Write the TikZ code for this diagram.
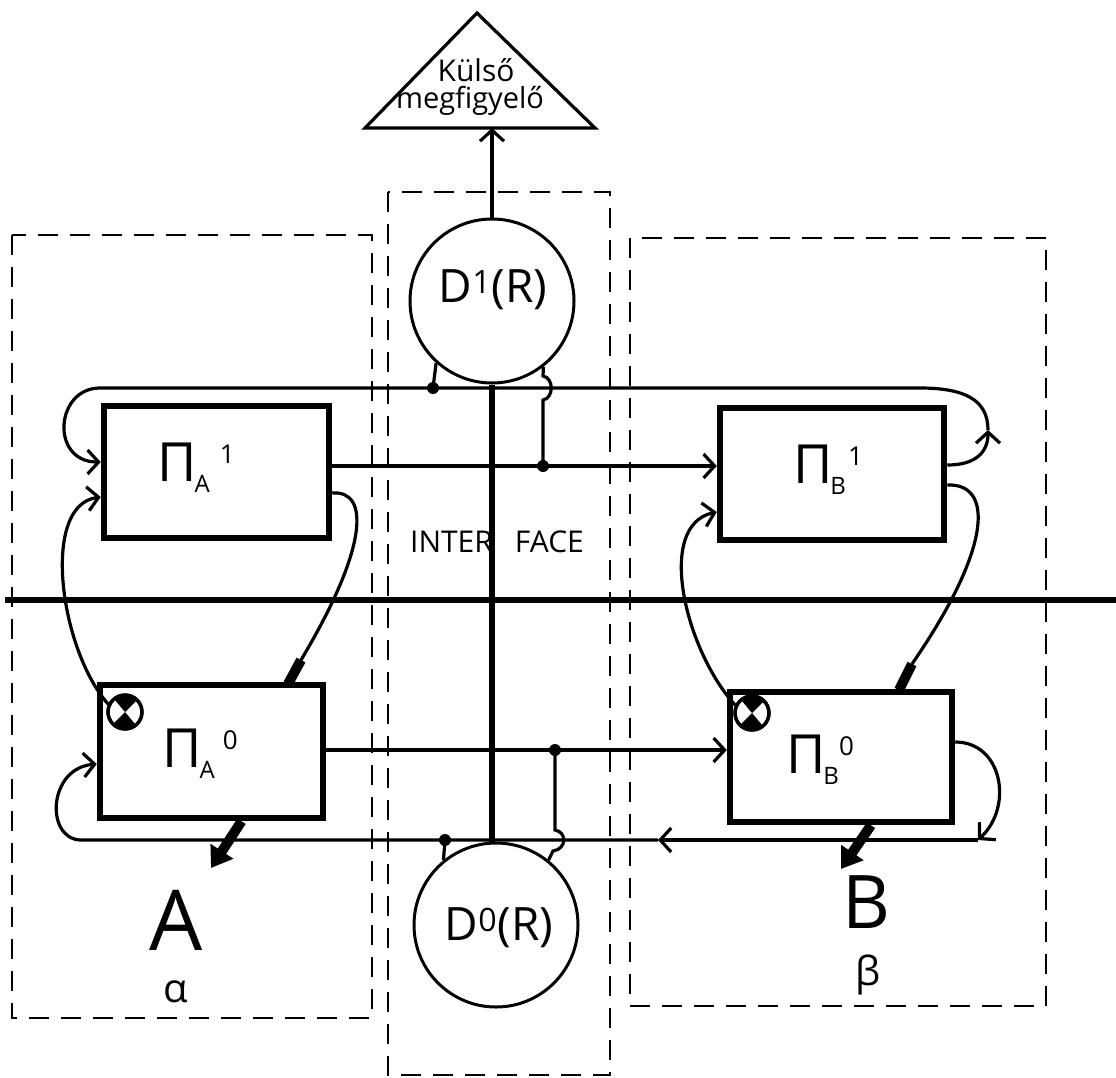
\documentclass[tikz,border=0pt]{standalone}
\usepackage{fontspec}
\setmainfont{Open Sans}
\usetikzlibrary{arrows.meta,calc}
\newcommand{\fsz}[1]{\fontsize{#1}{#1}\selectfont}
\newcommand{\plab}[3]{Π\kern-2pt\raisebox{-11pt}{\fsz{24}#1}\kern#3\raisebox{18pt}{\fsz{26}#2}}
\begin{document}
\begin{tikzpicture}[x=1pt,y=-1pt,
  thinl/.style={line width=3.2pt},
  pbox/.style={draw, line width=6.5pt, minimum width=222pt, minimum height=130pt, inner sep=0pt},
  dashbox/.style={draw, line width=2.6pt, dash pattern=on 20pt off 12pt},
  dcirc/.style={circle, draw, line width=3pt, minimum size=164pt, inner sep=0pt},
  xcirc/.style={circle, draw, line width=3pt, fill=white, minimum size=34pt, inner sep=0pt},
  lab/.style={inner sep=0pt},
  >={Straight Barb[length=11pt,width=24pt]},
  fat/.style={line width=10pt, -{Triangle[length=20pt,width=26pt]}},
  plug/.style={line width=10pt}
]
\useasboundingbox (0,0) rectangle (1116,1077);

% dashed regions
\draw[dashbox] (12,235) rectangle (372,1018);
\draw[dashbox] (630,238) rectangle (1046,1006);
\draw[dashbox] (388,192) rectangle (610,1075);

% thick horizontal line
\draw[line width=5.5pt] (5,600) -- (1116,600);

% boxes
\node[pbox, minimum width=225pt, minimum height=132pt] (A1) at (216.5,472) {};
\node[pbox, minimum width=224pt, minimum height=132pt] (B1) at (832,474) {};
\node[pbox, minimum width=223pt, minimum height=133pt] (A0) at (211.5,751.5) {};
\node[pbox, minimum width=222pt, minimum height=130pt] (B0) at (841,757) {};

\node[lab] (tA1) at (196,468) {\fsz{54}\plab{A}{1}{10pt}};
\node[lab] (tB1) at (828,470) {\fsz{54}\plab{B}{1}{2pt}};
\node[lab] (tA0) at (200,754) {\fsz{54}\plab{A}{0}{8pt}};
\node[lab] (tB0) at (820,760) {\fsz{54}\plab{B}{0}{0pt}};

% D circles
\node[dcirc] (D1) at (492,301) {};
\node[lab] (tD1) at (493,290) {\fsz{46}D\textsuperscript{1}(R)};
\node[dcirc] (D0) at (496,925) {};
\node[lab] (tD0) at (499,928) {\fsz{46}D\textsuperscript{0}(R)};

% thick vertical
\draw[line width=6.5pt] (D1.south) -- (D1.south |- D0.north);

% triangle observer
\coordinate (tL) at (365,128);
\coordinate (tT) at (477,13);
\coordinate (tR) at (595,128);
\draw[thinl, line join=miter] (tL) -- (tT) -- (tR) -- cycle;
\node[lab] (obs1) at (476,70) {\fsz{30}Külső};
\node[lab] (obs2) at (470,101) {\fsz{29}megfigyelő};
\draw[thinl,->] (D1.north) -- (D1.north |- tL);

% interface label
\node[lab] (ifc) at (497,542) {\fsz{30}INTER\hspace{22pt}FACE};

% dots
\coordinate (d1) at (433,388);
\coordinate (d2) at (543,466);
\coordinate (d3) at (555,750);
\coordinate (d4) at (445,840);
\foreach \d in {d1,d2,d3,d4} \fill (\d) circle[radius=6pt];

% top feedback line (B1 -> A1)
\coordinate (tr) at (988,430);
\draw[thinl,->] ([yshift=9pt]B1.east) .. controls (976,465) and (988,452) .. (tr);
\draw[thinl,->] (tr) .. controls (988,400) and (965,388) .. (920,388) -- (100,388)
   .. controls (55,388) and (50,462) .. ([yshift=10pt]A1.west);

% A1 -> B1
\draw[thinl,->] (A1.east |- d2) -- (B1.west |- d2);
% D1 connectors
\draw[thinl] (D1.-132) -- (d1);
\draw[thinl] (d2) -- (543,400) .. controls (554,398) and (554,378) .. (543,376) -- (D1.-52);

% crossed circles
\node[xcirc] (xa) at (125,712) {};
\node[xcirc] (xb) at (752,713) {};
\foreach \x in {xa,xb}{
  \fill (\x.center) -- (\x.45) arc[start angle=45, end angle=135, radius=17pt] -- cycle;
  \fill (\x.center) -- (\x.-135) arc[start angle=-135, end angle=-45, radius=17pt] -- cycle;
  \draw[line width=3.5pt] (\x) circle[radius=17pt];
}

% A0 -> A1 feedback
\draw[thinl,->] (xa.155) .. controls (60,650) and (40,505) .. ([yshift=-25pt]A1.west);
% B0 -> B1 feedback
\draw[thinl,->] (xb.155) .. controls (685,650) and (655,525) .. ([yshift=-38pt]B1.west);

% A1 -> A0 (plug)
\coordinate (pa) at (301,660);
\coordinate (pa2) at (288,684);
\draw[thinl] ([yshift=-21pt]A1.east) .. controls (370,490) and (368,548) .. (pa);
\draw[plug] (pa) -- (pa2);
% B1 -> B0 (plug)
\coordinate (pb) at (912,664);
\coordinate (pb2) at (899,690);
\draw[thinl] ([yshift=-11pt]B1.east) .. controls (994,483) and (992,548) .. (pb);
\draw[plug] (pb) -- (pb2);

% A0 -> B0
\draw[thinl,->] (A0.east |- d3) -- (B0.west |- d3);
% D0 connectors
\draw[thinl] (d4) -- (D0.129);
\draw[thinl] (d3) -- (555,830) .. controls (567,832) and (567,849) .. (553,851) -- (D0.51);

% bottom feedback line (B0 -> A0)
\coordinate (br) at (978,840);
\coordinate (ml) at (658,840);
\coordinate (bl) at (80,840);
\draw[thinl,->] ([yshift=15pt]B0.east) .. controls (1002,742) and (1014,806) .. (br);
\draw[thinl,->] (br) -- (ml);
\draw[thinl,->] (ml) -- (bl) .. controls (45,838) and (48,768) .. ([yshift=-12.5pt]A0.west);

% outputs
\coordinate (oa) at (211,868);
\coordinate (ob) at (841,869);
\draw[fat] ([xshift=30pt]A0.south) -- (oa);
\draw[fat] ([xshift=30pt]B0.south) -- (ob);

% region labels
\node[lab] (lA) at (176,920) {\fsz{84}A};
\node[lab] (lal) at (176,992) {\fsz{40}α};
\node[lab] (lB) at (866,902) {\fsz{74}B};
\node[lab] (lbe) at (868,975) {\fsz{40}β};
\end{tikzpicture}
\end{document}
